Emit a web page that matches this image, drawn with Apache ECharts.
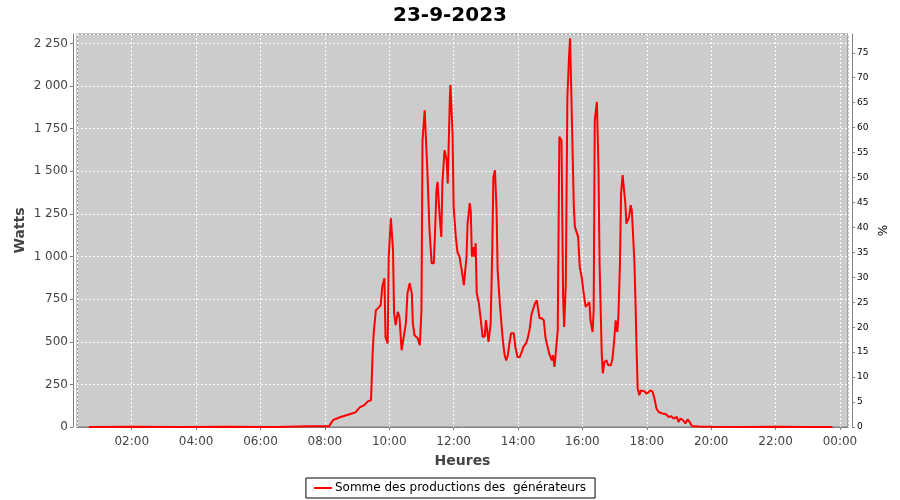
<!DOCTYPE html>
<html>
<head>
<meta charset="utf-8">
<script src="https://cdn.jsdelivr.net/npm/echarts@6/dist/echarts.min.js"></script>
<style>html,body{margin:0;padding:0;background:#fff}#c{width:900px;height:500px}</style>
</head>
<body>
<div id="c"></div>
<script>
var chartTitle = '23-9-2023';
var seriesName = 'Somme des productions des  générateurs';
var times = ['00:40','02:00','03:30','05:00','06:30','07:30','08:08',
'08:15','08:28','08:46','08:57','09:05','09:14','09:20','09:23','09:26','09:29','09:31','09:35','09:40','09:44','09:47','09:51','09:53','09:57','09:59',
'10:03','10:05','10:07','10:09','10:12','10:16','10:19','10:23','10:25','10:31','10:34','10:38','10:42','10:44','10:47','10:53','10:57',
'11:00','11:02','11:06','11:09','11:11','11:15','11:19','11:23','11:25','11:28','11:30','11:34','11:37','11:39','11:43','11:47','11:49','11:53','11:54','11:58',
'12:00','12:04','12:07','12:11','12:15','12:19','12:20','12:24','12:26','12:30','12:32','12:34','12:37','12:39','12:41','12:43','12:47','12:50','12:54','12:58',
'13:00','13:01','13:05','13:09','13:12','13:14','13:17','13:20','13:22','13:26','13:29','13:32','13:35','13:38','13:41','13:44','13:47','13:52','13:55','13:59',
'14:03','14:07','14:10','14:15','14:18','14:22','14:25','14:31','14:35','14:37','14:40','14:44','14:48','14:51','14:55','14:59',
'15:03','15:05','15:08','15:10','15:14','15:17','15:21','15:24','15:26','15:29','15:32','15:35','15:37','15:40','15:44','15:46','15:49','15:52','15:55','15:59',
'16:02','16:06','16:09','16:13','16:15','16:19','16:21','16:23','16:27','16:30','16:32','16:36','16:38','16:41','16:45','16:48','16:53','16:56','16:59',
'17:02','17:05','17:07','17:10','17:12','17:15','17:17','17:20','17:22','17:25','17:27','17:30','17:32','17:34','17:37','17:39','17:41','17:43','17:46','17:49','17:56','17:59',
'18:03','18:07','18:11','18:15','18:18','18:22','18:29','18:35','18:41','18:46','18:50','18:53','18:56','18:59',
'19:03','19:09','19:12','19:16','19:20','19:23','19:27','19:38','20:00','21:00','22:00','23:00','23:46'];
var watts = [0,2,0,2,0,4,5,
40,57,75,86,115,130,150,147,157,432,550,684,700,714,822,872,527,490,998,
1225,1232,1035,667,597,675,645,450,440,608,785,843,783,608,538,520,480,
685,1682,1858,1849,1506,1154,960,960,1115,1389,1438,1232,1115,1430,1624,1565,1428,1937,2005,1723,
1291,1115,1027,998,920,832,826,998,1195,1313,1262,998,1055,998,1078,785,726,645,528,532,
626,608,499,608,1037,1467,1506,1272,920,726,608,499,421,391,421,491,550,550,470,411,
409,440,470,491,520,580,660,720,743,735,638,638,626,528,470,421,
391,421,352,352,567,1702,1682,763,587,842,1937,2171,2279,2270,1291,1174,1166,1115,939,871,
792,704,714,733,626,557,685,1800,1907,1506,959,432,315,381,391,362,362,401,499,
626,557,645,959,1370,1477,1409,1311,1193,1193,1232,1301,1272,1154,959,724,450,225,186,215,209,196,
203,215,206,157,108,88,79,76,59,63,49,39,60,29,
50,35,20,45,29,10,4,3,2,0,2,0,0];

function ts(s, dayOffset) {
  var p = s.split(':');
  return new Date(2023, 8, 23 + (dayOffset || 0), +p[0], +p[1]).getTime();
}
var data = times.map(function (t, i) { return [ts(t), watts[i]]; });

var font = 'DejaVu Sans';
function pad(n){return (n<10?'0':'')+n;}
function thousands(v){return String(v).replace(/\B(?=(\d{3})+(?!\d))/g, ' ');}

var chart = echarts.init(document.getElementById('c'), null, {renderer: 'canvas'});
chart.setOption({
  animation: false,
  backgroundColor: '#ffffff',
  title: {
    text: chartTitle, left: 'center', top: 1,
    textStyle: {fontFamily: font, fontSize: 20, fontWeight: 'bold', color: '#000'}
  },
  legend: {
    data: [{name: seriesName, icon: 'rect'}],
    bottom: 2, left: 'center',
    itemWidth: 18, itemHeight: 2, itemGap: 4,
    borderColor: '#000', borderWidth: 1, borderRadius: 0,
    padding: [4, 9, 4, 8],
    textStyle: {fontFamily: font, fontSize: 12, color: '#000', padding: [0,0,0,-2]}
  },
  grid: {
    left: 77, right: 52, top: 34, bottom: 73, show: true,
    outerBoundsMode: 'none', containLabel: false,
    backgroundColor: '#cccccc', borderColor: '#808080', borderWidth: 1
  },
  xAxis: {
    type: 'time',
    min: ts('00:18'), max: ts('00:15', 1),
    minInterval: 9000000, maxInterval: 9000000,
    offset: 4,
    name: 'Heures', nameLocation: 'middle', nameGap: 23, nameMoveOverlap: false,
    nameTextStyle: {fontFamily: font, fontSize: 14, fontWeight: 'bold', color: '#444'},
    axisLine: {lineStyle: {color: '#808080'}},
    axisTick: {show: true, length: 3, lineStyle: {color: '#808080'}},
    axisLabel: {
      fontFamily: font, fontSize: 12, color: '#444', margin: 5,
      hideOverlap: false,
      formatter: function (v) { var d = new Date(v); return pad(d.getHours()) + ':' + pad(d.getMinutes()); }
    },
    splitLine: {show: true, lineStyle: {color: '#ffffff', type: [2, 2], width: 1}}
  },
  yAxis: [{
    type: 'value', min: 0, max: 2305, interval: 250,
    offset: 4, position: 'left',
    name: 'Watts', nameLocation: 'middle', nameGap: 46, nameRotate: 90, nameMoveOverlap: false,
    nameTextStyle: {fontFamily: font, fontSize: 14, fontWeight: 'bold', color: '#444'},
    axisLine: {show: true, lineStyle: {color: '#808080'}},
    axisTick: {show: true, length: 3, lineStyle: {color: '#808080'}},
    axisLabel: {
      fontFamily: font, fontSize: 12, color: '#444', margin: 5, showMaxLabel: false,
      formatter: function (v) { return v % 250 === 0 ? thousands(v) : ''; }
    },
    splitLine: {show: true, lineStyle: {color: '#ffffff', type: [2, 2], width: 1}}
  }, {
    type: 'value', min: 0, max: 78.76, interval: 5,
    offset: 4, position: 'right',
    name: '%', nameLocation: 'middle', nameGap: 26, nameRotate: 90, nameMoveOverlap: false,
    nameTextStyle: {fontFamily: font, fontSize: 12, color: '#000'},
    axisLine: {show: true, lineStyle: {color: '#808080'}},
    axisTick: {show: true, length: 3, lineStyle: {color: '#808080'}},
    axisLabel: {
      fontFamily: font, fontSize: 9, color: '#000', margin: 5, showMaxLabel: false,
      formatter: function (v) { return v % 5 === 0 ? String(v) : ''; }
    },
    splitLine: {show: false}
  }],
  series: [{
    name: seriesName, type: 'line', data: data, yAxisIndex: 0,
    showSymbol: false, symbol: 'rect', symbolSize: 3,
    lineStyle: {color: '#ff0000', width: 2},
    itemStyle: {color: '#ff0000'}
  }]
});
</script>
</body>
</html>
